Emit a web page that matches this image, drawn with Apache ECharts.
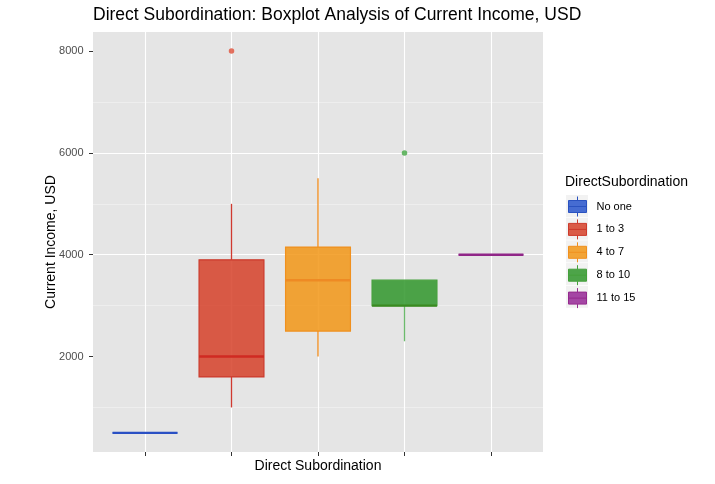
<!DOCTYPE html>
<html>
<head>
<meta charset="utf-8">
<script src="https://cdn.jsdelivr.net/npm/echarts@6/dist/echarts.min.js"></script>
<style>html,body{margin:0;padding:0;background:#fff;}#c{width:715px;height:484px;}</style>
</head>
<body>
<div id="c"></div>
<script>
const categories = ['No one', '1 to 3', '4 to 7', '8 to 10', '11 to 15'];
// [min, Q1, median, Q3, max]
const boxStats = [
  [500, 500, 500, 500, 500],
  [1000, 1600, 2000, 3900, 5000],
  [2000, 2500, 3500, 4150, 5500],
  [2300, 3000, 3000, 3500, 3500],
  [4000, 4000, 4000, 4000, 4000]
];
const outliers = [[1, 8000], [3, 6000]];
const yTicks = [2000, 4000, 6000, 8000];
const yMin = 125, yMax = 8375;

const fills = ['rgba(40,85,205,0.85)', 'rgba(214,65,41,0.85)', 'rgba(242,150,22,0.85)', 'rgba(48,151,43,0.85)', 'rgba(150,40,150,0.85)'];
const borders = ['#2a52c0', '#cc3a2c', '#f0901e', '#45a03c', '#942a8e'];
const medianColors = ['#2a50c4', '#d02a22', '#ee8a24', '#3a8a20', '#902688'];
const whiskerColors = ['#2a52c0', '#d03a30', '#f08a1a', '#6cbb6c', '#942a8e'];
const outlierColors = ['#2a52c0', '#e0503a', '#ef8a1e', '#44a844', '#942a8e'];

const FONT = 'Liberation Sans, Arial, sans-serif';
const legendIcon = 'path://M9 0 L9 4 M0 4 L18 4 L18 16 L0 16 Z M0 10 L18 10 M9 16 L9 20';

const chart = echarts.init(document.getElementById('c'), null, {renderer: 'canvas'});

function renderBox(params, api) {
  const k = params.seriesIndex;
  const x = api.value(0);
  const lo = api.coord([x, api.value(1)]);
  const q1 = api.coord([x, api.value(2)]);
  const med = api.coord([x, api.value(3)]);
  const q3 = api.coord([x, api.value(4)]);
  const hi = api.coord([x, api.value(5)]);
  const half = api.size([1, 0])[0] * 0.75 / 2;
  const cx = q1[0];
  return {
    type: 'group',
    children: [
      {type: 'line', shape: {x1: cx, y1: q1[1], x2: cx, y2: lo[1]}, style: {stroke: whiskerColors[k], lineWidth: 1.3}},
      {type: 'line', shape: {x1: cx, y1: q3[1], x2: cx, y2: hi[1]}, style: {stroke: whiskerColors[k], lineWidth: 1.3}},
      {type: 'rect', shape: {x: cx - half, y: q3[1], width: 2 * half, height: q1[1] - q3[1]},
       style: {fill: fills[k], stroke: borders[k], lineWidth: 1.2}},
      {type: 'line', shape: {x1: cx - half, y1: med[1], x2: cx + half, y2: med[1]},
       style: {stroke: medianColors[k], lineWidth: 2.4}}
    ]
  };
}

const series = categories.map((c, i) => ({
  type: 'custom', name: c, xAxisIndex: 0, yAxisIndex: 0, z: 3,
  renderItem: renderBox,
  itemStyle: {color: fills[i], borderColor: borders[i], borderWidth: 1},
  encode: {x: 0, y: [1, 2, 3, 4, 5]},
  data: [[i].concat(boxStats[i])]
}));
series.push({
  type: 'scatter', name: 'outliers', xAxisIndex: 0, yAxisIndex: 0, z: 5,
  symbol: 'circle', symbolSize: 5.5, silent: true,
  data: outliers.map(o => ({value: o, itemStyle: {color: outlierColors[o[0]]}}))
});

const keyRects = categories.map((c, i) => ({
  type: 'rect', left: 566, top: 195 + i * 22.7, z: 0, silent: true,
  shape: {width: 22, height: 22}, style: {fill: '#F2F2F2'}
}));

const option = {
  backgroundColor: '#ffffff',
  animation: false,
  textStyle: {fontFamily: FONT},
  graphic: keyRects,
  title: [
    {text: 'Direct Subordination: Boxplot Analysis of Current Income, USD', left: 93, top: 6, padding: 0,
     textStyle: {fontSize: 17.5, fontWeight: 'normal', color: '#000', fontFamily: FONT}},
    {text: 'DirectSubordination', left: 565, top: 175, padding: 0,
     textStyle: {fontSize: 14, fontWeight: 'normal', color: '#000', fontFamily: FONT}}
  ],
  legend: {
    orient: 'vertical', left: 568, top: 196, padding: 0, z: 5,
    itemWidth: 18, itemHeight: 20, itemGap: 1.9,
    icon: legendIcon,
    data: categories.map((c, i) => ({name: c, itemStyle: {color: fills[i], borderColor: borders[i], borderWidth: 1}})),
    textStyle: {fontSize: 11, color: '#000', padding: [0, 0, 0, 5], fontFamily: FONT},
    selectedMode: false
  },
  grid: [
    {left: 145, width: 346, top: 32, height: 420, containLabel: false},
    {left: 93, width: 450, top: 32, height: 420, show: true, backgroundColor: '#E5E5E5', borderWidth: 0, z: -1}
  ],
  xAxis: [
    {
      type: 'category', gridIndex: 0, data: categories, boundaryGap: false,
      axisLine: {show: false},
      axisTick: {show: true, length: 4, lineStyle: {color: '#333', width: 1}},
      axisLabel: {show: false},
      splitLine: {show: true, lineStyle: {color: '#fff', width: 1.1}},
      name: 'Direct Subordination', nameLocation: 'middle', nameGap: 7, nameMoveOverlap: false,
      nameTextStyle: {fontSize: 14, color: '#000', fontFamily: FONT}
    },
    {type: 'value', gridIndex: 1, show: false, min: 0, max: 1}
  ],
  yAxis: [
    {type: 'value', gridIndex: 0, min: yMin, max: yMax, show: false},
    {
      type: 'value', gridIndex: 1, min: yMin, max: yMax,
      axisLine: {show: false},
      axisTick: {show: true, length: 4, lineStyle: {color: '#333'}, customValues: yTicks},
      axisLabel: {show: true, fontSize: 11, color: '#4D4D4D', margin: 9.5, customValues: yTicks,
                  formatter: v => String(v), fontFamily: FONT},
      splitLine: {show: true, showMinLine: false, showMaxLine: false, lineStyle: {color: '#fff', width: 1.1}},
      minorTick: {show: false, splitNumber: 2},
      minorSplitLine: {show: true, lineStyle: {color: '#f4f4f4', width: 0.6}},
      name: 'Current Income, USD', nameLocation: 'middle', nameGap: 35, nameMoveOverlap: false,
      nameTextStyle: {fontSize: 14, color: '#000', fontFamily: FONT}
    }
  ],
  series: series
};
chart.setOption(option);
</script>
</body>
</html>
